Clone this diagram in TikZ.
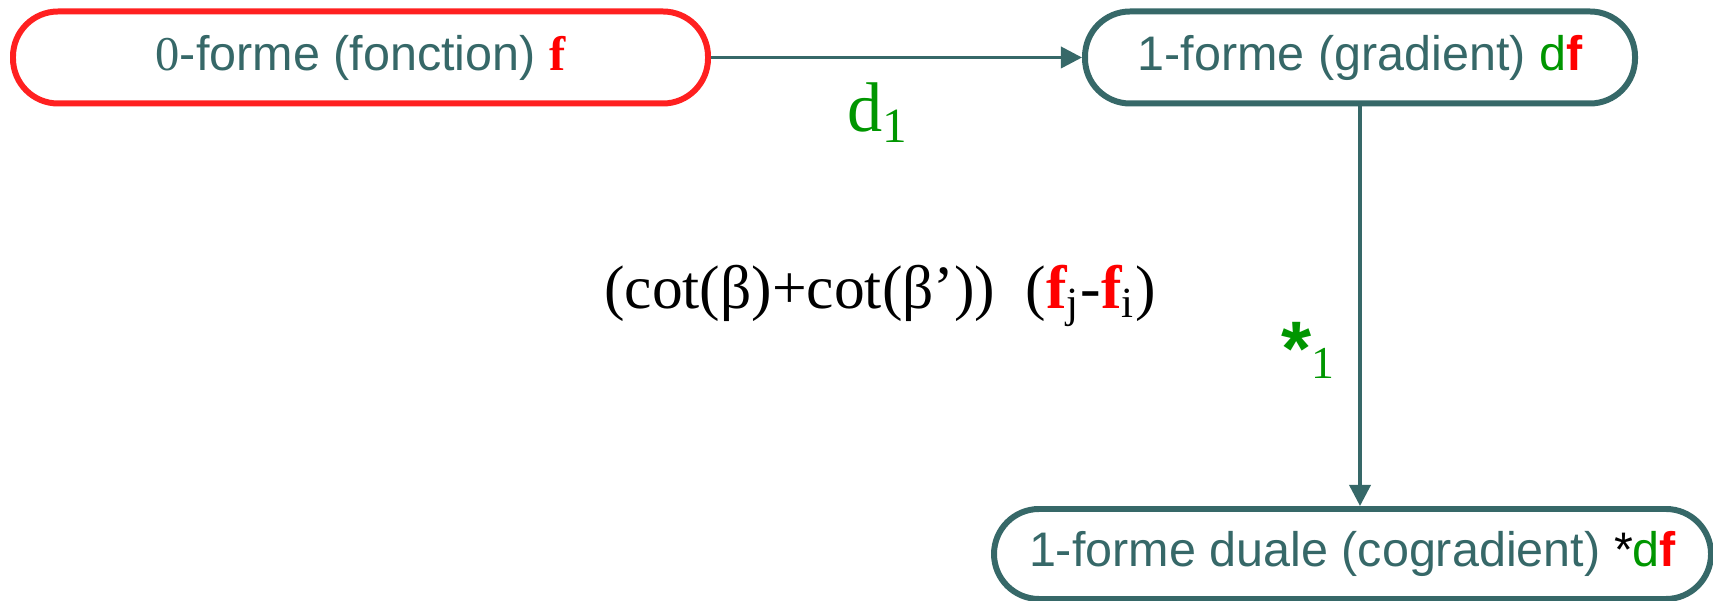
\documentclass[tikz,border=0pt]{standalone}
\usepackage{fontspec}
\setmainfont{Liberation Serif}
\setsansfont{Liberation Sans}
\usetikzlibrary{arrows.meta,calc,positioning}

\definecolor{teal}{RGB}{54,104,104}
\definecolor{fred}{RGB}{255,0,0}
\definecolor{bred}{RGB}{255,32,32}
\definecolor{dgreen}{RGB}{0,150,0}

\begin{document}
\begin{tikzpicture}[
  >={Triangle[length=6pt, width=6pt]},
  form/.style={draw=teal, line width=1.7pt, rounded corners=0.45cm,
               minimum height=0.92cm, inner sep=0pt,
               font=\sffamily\fontsize{13.8}{16}\selectfont, text=teal},
  arr/.style={->, teal, line width=1pt},
  oplabel/.style={text=dgreen, font=\fontsize{20}{22}\selectfont},
]
\useasboundingbox (0,0) rectangle (17.13,6.01);

%% ═══ FORMS ══════════════════════════════════════════════════════════
\node[form, draw=bred, minimum width=6.95cm] (f0) at (3.605, 5.435)
    {{\rmfamily 0}-forme (fonction) \textcolor{fred}{\rmfamily\bfseries f}};
\node[form, minimum width=5.50cm] (f1) at (13.60, 5.435)
    {1-forme (gradient) \textcolor{dgreen}{d}\textcolor{fred}{\bfseries f}};
\node[form, minimum width=7.17cm, minimum height=0.90cm] (f1d) at (13.525, 0.47)
    {1-forme duale (cogradient) \textcolor{black}{*}\textcolor{dgreen}{d}\textcolor{fred}{\bfseries f}};

% cotangent formula in the middle
\node[font=\fontsize{17.5}{20}\selectfont] (cotan) at (8.80, 3.05)
    {(cot(β)+cot(β’))~~(\textcolor{fred}{\bfseries f}\textsubscript{j}-\textcolor{fred}{\bfseries f}\textsubscript{i})};

%% ═══ OPERATORS ══════════════════════════════════════════════════════
\draw[arr] (f0) -- node[oplabel, pos=0.45, below=0.12cm] (dop) {d\textsubscript{1}} (f1);
\draw[arr] (f1.south) -- node[oplabel, pos=0.61, left=0.12cm] (hodge)
    {{\sffamily\bfseries\fontsize{22}{22}\selectfont *}{\fontsize{13}{13}\selectfont\raisebox{-0.15ex}{1}}} (f1.south |- f1d.north);

\end{tikzpicture}
\end{document}
